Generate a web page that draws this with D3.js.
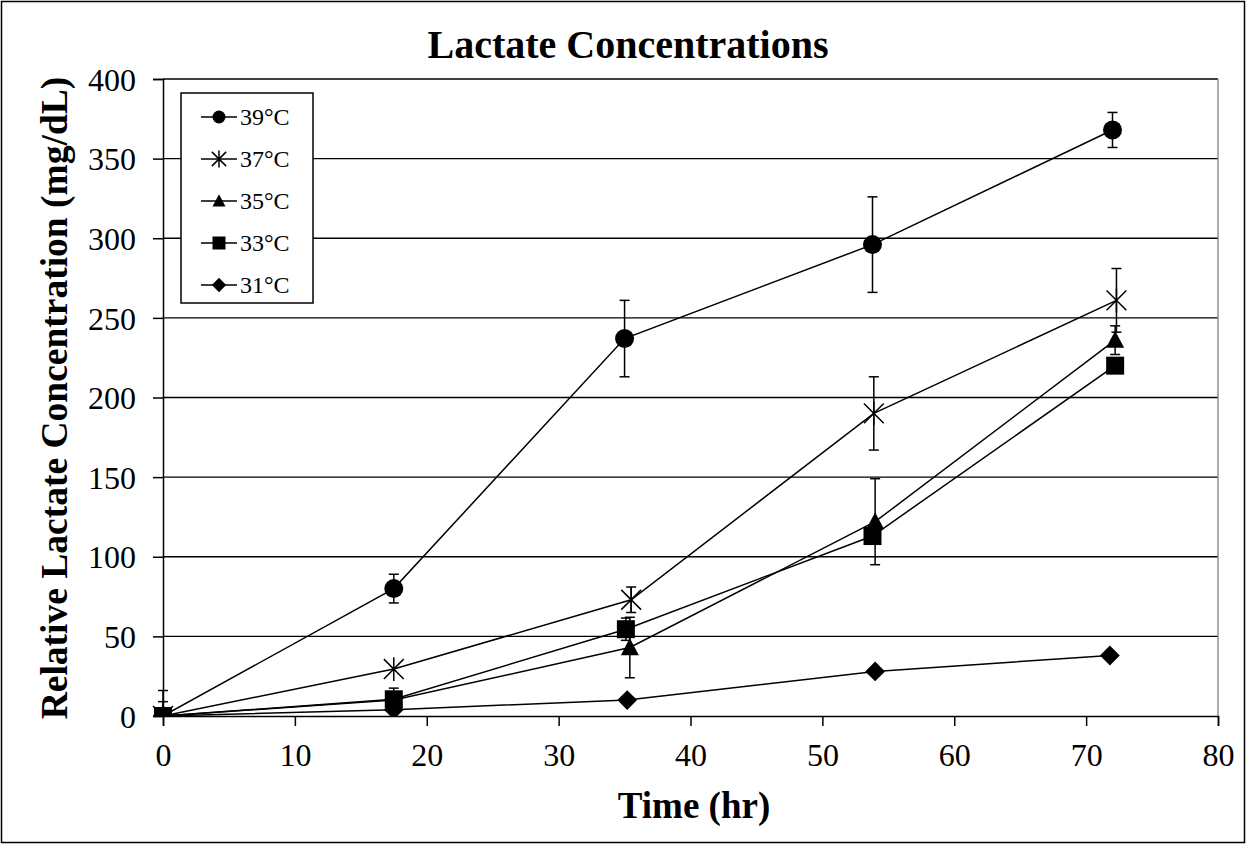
<!DOCTYPE html>
<html>
<head>
<meta charset="utf-8">
<script src="https://cdn.jsdelivr.net/npm/d3@7"></script>
<style>
  body { margin: 0; background: #fff; }
  svg { display: block; font-family: "Liberation Serif", "Times New Roman", serif; }
</style>
</head>
<body>
<svg width="1247" height="845"></svg>
<script>
// data
var seriesNames = ["39°C", "37°C", "35°C", "33°C", "31°C"];
var markers = ["circle", "star", "triangle", "square", "diamond"];

var time39 = [0, 17.5, 35, 53.8, 72];
var lac39  = [0, 80, 237, 296, 368];
var err39  = [16, 9, 24, 30, 11];

var time37 = [0, 17.5, 35.5, 53.9, 72.3];
var lac37  = [0, 29.5, 73, 190, 261];
var err37  = [9, 0, 8, 23, 20];

var time35 = [0, 17.5, 35.4, 54, 72.2];
var lac35  = [0, 10, 43, 122, 236];
var err35  = [0, 0, 19, 27, 9];

var time33 = [0, 17.5, 35.1, 53.8, 72.2];
var lac33  = [0, 10.5, 54.5, 113, 220];
var err33  = [0, 7, 7, 0, 0];

var time31 = [0, 17.5, 35.2, 54, 71.8];
var lac31  = [0, 4, 10, 28, 38];
var err31  = [0, 0, 0, 0, 0];

var xTicks = [0, 10, 20, 30, 40, 50, 60, 70, 80];
var yTicks = [0, 50, 100, 150, 200, 250, 300, 350, 400];

var series = [
  {name: seriesNames[0], marker: markers[0], x: time39, y: lac39, e: err39},
  {name: seriesNames[1], marker: markers[1], x: time37, y: lac37, e: err37},
  {name: seriesNames[2], marker: markers[2], x: time35, y: lac35, e: err35},
  {name: seriesNames[3], marker: markers[3], x: time33, y: lac33, e: err33},
  {name: seriesNames[4], marker: markers[4], x: time31, y: lac31, e: err31}
];

var svg = d3.select("svg");
// plot area edges (window.top is read-only, so own names)
var pLeft = 163, pRight = 1218, pTop = 79, pBottom = 716;

// outer chart border
svg.append("rect")
  .attr("x", 1.5).attr("y", 1.5).attr("width", 1243).attr("height", 841)
  .attr("fill", "#fff").attr("stroke", "#000").attr("stroke-width", 1.5);

var xScale = d3.scaleLinear().domain([0, 80]).range([pLeft, pRight]);
var yScale = d3.scaleLinear().domain([0, 400]).range([pBottom, pTop]);

// gridlines
svg.append("g").selectAll("line")
  .data(yTicks.slice(1))
  .enter().append("line")
  .attr("x1", pLeft).attr("x2", pRight)
  .attr("y1", function(d) { return yScale(d); })
  .attr("y2", function(d) { return yScale(d); })
  .attr("stroke", "#000").attr("stroke-width", 1.3);

// plot area border (right side)
svg.append("line")
  .attr("x1", pRight).attr("x2", pRight).attr("y1", pTop).attr("y2", pBottom)
  .attr("stroke", "#808080").attr("stroke-width", 1.3);

// axes
var yAxis = svg.append("g")
  .attr("transform", "translate(" + pLeft + ",0)")
  .call(d3.axisLeft(yScale).tickValues(yTicks).tickSize(10).tickPadding(17));
var xAxis = svg.append("g")
  .attr("transform", "translate(0," + pBottom + ")")
  .call(d3.axisBottom(xScale).tickValues(xTicks).tickSize(10).tickPadding(17));

[xAxis, yAxis].forEach(function(ax) {
  ax.select(".domain").attr("stroke", "#000").attr("stroke-width", 1.5);
  ax.selectAll(".tick line").attr("stroke", "#000").attr("stroke-width", 1.5);
  ax.selectAll("text")
    .attr("fill", "#000")
    .style("font-family", '"Liberation Serif", serif')
    .style("font-size", "32px");
});
yAxis.selectAll("text").attr("dy", "0.35em");
xAxis.selectAll("text").attr("dy", "0.71em");

// clip for error bars and lines
svg.append("clipPath").attr("id", "plotclip")
  .append("rect").attr("x", pLeft - 20).attr("y", pTop - 20)
  .attr("width", pRight - pLeft + 40).attr("height", pBottom - pTop + 20);

function markerPath(type, h) {
  if (type == "square") return "M" + (-h) + "," + (-h) + "H" + h + "V" + h + "H" + (-h) + "Z";
  if (type == "triangle") return "M0," + (-h * 1.05) + "L" + h + "," + (h * 0.85) + "L" + (-h) + "," + (h * 0.85) + "Z";
  if (type == "diamond") return "M0," + (-h * 1.1) + "L" + (h * 1.1) + ",0L0," + (h * 1.1) + "L" + (-h * 1.1) + ",0Z";
  if (type == "star") return "M" + (-h) + "," + (-h) + "L" + h + "," + h + "M" + h + "," + (-h) + "L" + (-h) + "," + h + "M0," + (-h * 1.2) + "V" + (h * 1.2);
  return null;
}

function drawMarker(g, type, cx, cy, h) {
  if (type == "circle") {
    g.append("circle").attr("cx", cx).attr("cy", cy).attr("r", h).attr("fill", "#000");
  } else if (type == "star") {
    g.append("path").attr("d", markerPath(type, h * 1.1))
      .attr("transform", "translate(" + cx + "," + cy + ")")
      .attr("fill", "none").attr("stroke", "#000").attr("stroke-width", 1.5);
  } else {
    g.append("path").attr("d", markerPath(type, h))
      .attr("transform", "translate(" + cx + "," + cy + ")")
      .attr("fill", "#000");
  }
}

var line = d3.line()
  .x(function(d) { return xScale(d[0]); })
  .y(function(d) { return yScale(d[1]); });

var plot = svg.append("g").attr("clip-path", "url(#plotclip)");

series.forEach(function(s) {
  var pts = s.x.map(function(v, i) { return [v, s.y[i], s.e[i]]; });
  var g = plot.append("g");
  g.append("path")
    .datum(pts)
    .attr("d", line)
    .attr("fill", "none").attr("stroke", "#000").attr("stroke-width", 1.5);

  // error bars
  pts.filter(function(p) { return p[2] > 0; }).forEach(function(p) {
    var cx = xScale(p[0]);
    var y1 = yScale(Math.max(0, p[1] - p[2]));
    var y2 = yScale(p[1] + p[2]);
    g.append("line").attr("x1", cx).attr("x2", cx).attr("y1", y1).attr("y2", y2)
      .attr("stroke", "#000").attr("stroke-width", 1.5);
    [p[1] - p[2], p[1] + p[2]].forEach(function(v) {
      if (v < 0) return;
      g.append("line").attr("x1", cx - 5).attr("x2", cx + 5)
        .attr("y1", yScale(v)).attr("y2", yScale(v))
        .attr("stroke", "#000").attr("stroke-width", 1.5);
    });
  });
});

series.forEach(function(s) {
  var g = plot.append("g");
  s.x.forEach(function(v, i) {
    drawMarker(g, s.marker, xScale(v), yScale(s.y[i]), s.marker == "circle" ? 9.5 : 9);
  });
});

// title
svg.append("text")
  .attr("x", 628).attr("y", 58)
  .attr("text-anchor", "middle")
  .style("font-size", "40px").style("font-weight", "bold")
  .text("Lactate Concentrations");

// axis titles
svg.append("text")
  .attr("x", 694).attr("y", 818)
  .attr("text-anchor", "middle")
  .style("font-size", "37px").style("font-weight", "bold")
  .text("Time (hr)");

svg.append("text")
  .attr("transform", "translate(67," + 398 + ") rotate(-90)")
  .attr("text-anchor", "middle")
  .style("font-size", "37.5px").style("font-weight", "bold")
  .text("Relative Lactate Concentration (mg/dL)");

// legend
var legend = svg.append("g");
legend.append("rect")
  .attr("x", 181).attr("y", 93).attr("width", 132).attr("height", 210)
  .attr("fill", "#fff").attr("stroke", "#000").attr("stroke-width", 1.5);

var legRow = d3.scalePoint().domain(seriesNames).range([117, 285]);
series.forEach(function(s) {
  var y = legRow(s.name);
  legend.append("line").attr("x1", 201).attr("x2", 237).attr("y1", y).attr("y2", y)
    .attr("stroke", "#000").attr("stroke-width", 1.5);
  drawMarker(legend, s.marker, 219, y, 6.5);
  legend.append("text")
    .attr("x", 240).attr("y", y).attr("dy", "0.35em")
    .style("font-size", "24px")
    .text(s.name);
});
</script>
</body>
</html>
